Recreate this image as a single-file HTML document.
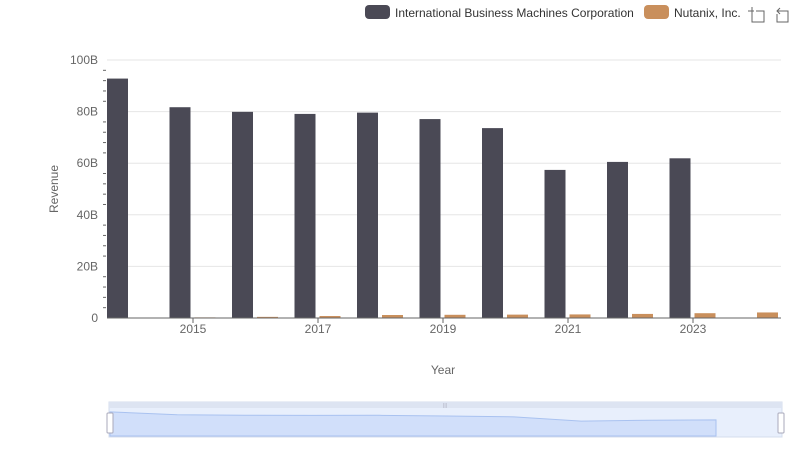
<!DOCTYPE html>
<html><head><meta charset="utf-8"><style>
body{margin:0;background:#fff;width:800px;height:461px;overflow:hidden;font-family:"Liberation Sans",sans-serif}
</style></head><body>
<svg id="c" width="800" height="461" xmlns="http://www.w3.org/2000/svg" font-family="Liberation Sans, sans-serif">
<g>
 <g><rect x="365" y="5" width="25" height="14" rx="4" fill="#4a4955"/><text x="395" y="17" font-size="12" fill="#333">International Business Machines Corporation</text></g>
 <g><rect x="644" y="5" width="25" height="14" rx="4" fill="#c98f5c"/><text x="674" y="17" font-size="12" fill="#333">Nutanix, Inc.</text></g>
 <g stroke="#666" fill="none" stroke-width="1"><path d="M752 9V22H764V11H756M748 11H754M752 7V9"/></g>
 <g stroke="#666" fill="none" stroke-width="1"><path d="M777 11H788V22H777V14M780 8L777 11L780 14"/></g>
</g>
<text transform="translate(58,189) rotate(-90)" text-anchor="middle" font-size="12" fill="#666">Revenue</text>
<text x="443" y="374" text-anchor="middle" font-size="12" fill="#666">Year</text>
<g id="grid"></g><g id="bars"></g><g id="axes"></g>
<g>
 <rect x="109" y="402" width="673" height="35" fill="#e8effc" stroke="#d5dcec"/>
 <rect x="109" y="402" width="673" height="6" fill="#dde4f2"/>
 <path id="mini" fill="#d1dffa" stroke="#a9c2f0" stroke-width="1"/>
 <rect x="107" y="413" width="6" height="20" rx="1" fill="#fff" stroke="#aab"/>
 <rect x="778" y="413" width="6" height="20" rx="1" fill="#fff" stroke="#aab"/>
 <text x="445" y="407" font-size="5" fill="#aab" text-anchor="middle">|||</text>
</g>
</svg>
<script>
const years=[2014,2015,2016,2017,2018,2019,2020,2021,2022,2023,2024];
const ibm=[92.8,81.7,79.9,79.1,79.6,77.1,73.6,57.4,60.5,61.9,null];
const nutanix=[0.13,0.24,0.44,0.77,1.16,1.24,1.31,1.39,1.58,1.86,2.15];
const yTicks=[0,20,40,60,80,100];
const NS="http://www.w3.org/2000/svg";
const x0=107,band=62.5,bw=21,y0=318,yTop=60,axEnd=781;
const ys=v=>y0-(v/100)*(y0-yTop);
const xb=i=>x0+i*band;
function mk(t,a,p){const e=document.createElementNS(NS,t);for(const k in a)e.setAttribute(k,a[k]);p.appendChild(e);return e;}
const grid=document.getElementById('grid'),bars=document.getElementById('bars'),axes=document.getElementById('axes');
yTicks.forEach(v=>{
 const l=mk('line',{x1:x0,x2:axEnd,y1:ys(v),y2:ys(v),stroke:'#e6e6e6'},grid);
 
 
 const t=mk('text',{x:98,y:ys(v)+4,'text-anchor':'end','font-size':12,fill:'#666'},axes);
 t.textContent=v===0?'0':v+'B';
 
 
});
for(let v=0;v<100;v+=4){if(v%20)mk('line',{x1:x0-4,x2:x0-1,y1:ys(v),y2:ys(v),stroke:'#666'},axes);}
years.forEach((y,i)=>{
 if(ibm[i]!=null){const r=mk('rect',{x:xb(i),y:ys(ibm[i]),width:bw,height:y0-ys(ibm[i]),fill:'#4a4955'},bars);
 
 }
 const r2=mk('rect',{x:xb(i)+25,y:ys(nutanix[i]),width:bw,height:y0-ys(nutanix[i]),fill:'#c98f5c'},bars);
 
 
 if(i%2==1){const tx=xb(i)+23.5;
  mk('line',{x1:tx,x2:tx,y1:y0,y2:y0+5,stroke:'#666'},axes);
  const t=mk('text',{x:tx,y:y0+15,'text-anchor':'middle','font-size':12,fill:'#666'},axes);
  t.textContent=y;
  
  }
});
mk('line',{x1:x0,x2:axEnd,y1:y0,y2:y0,stroke:'#666'},axes);
// mini chart
let d='',mx=110,mw=606/9;
ibm.forEach((v,i)=>{if(v==null)return;const px=mx+i*mw,py=436-(v/100)*26;d+=(d?'L':'M')+px+' '+py;});
d+='L'+(mx+9*mw)+' 436L'+mx+' 436Z';
document.getElementById('mini').setAttribute('d',d);
</script>
</body></html>
